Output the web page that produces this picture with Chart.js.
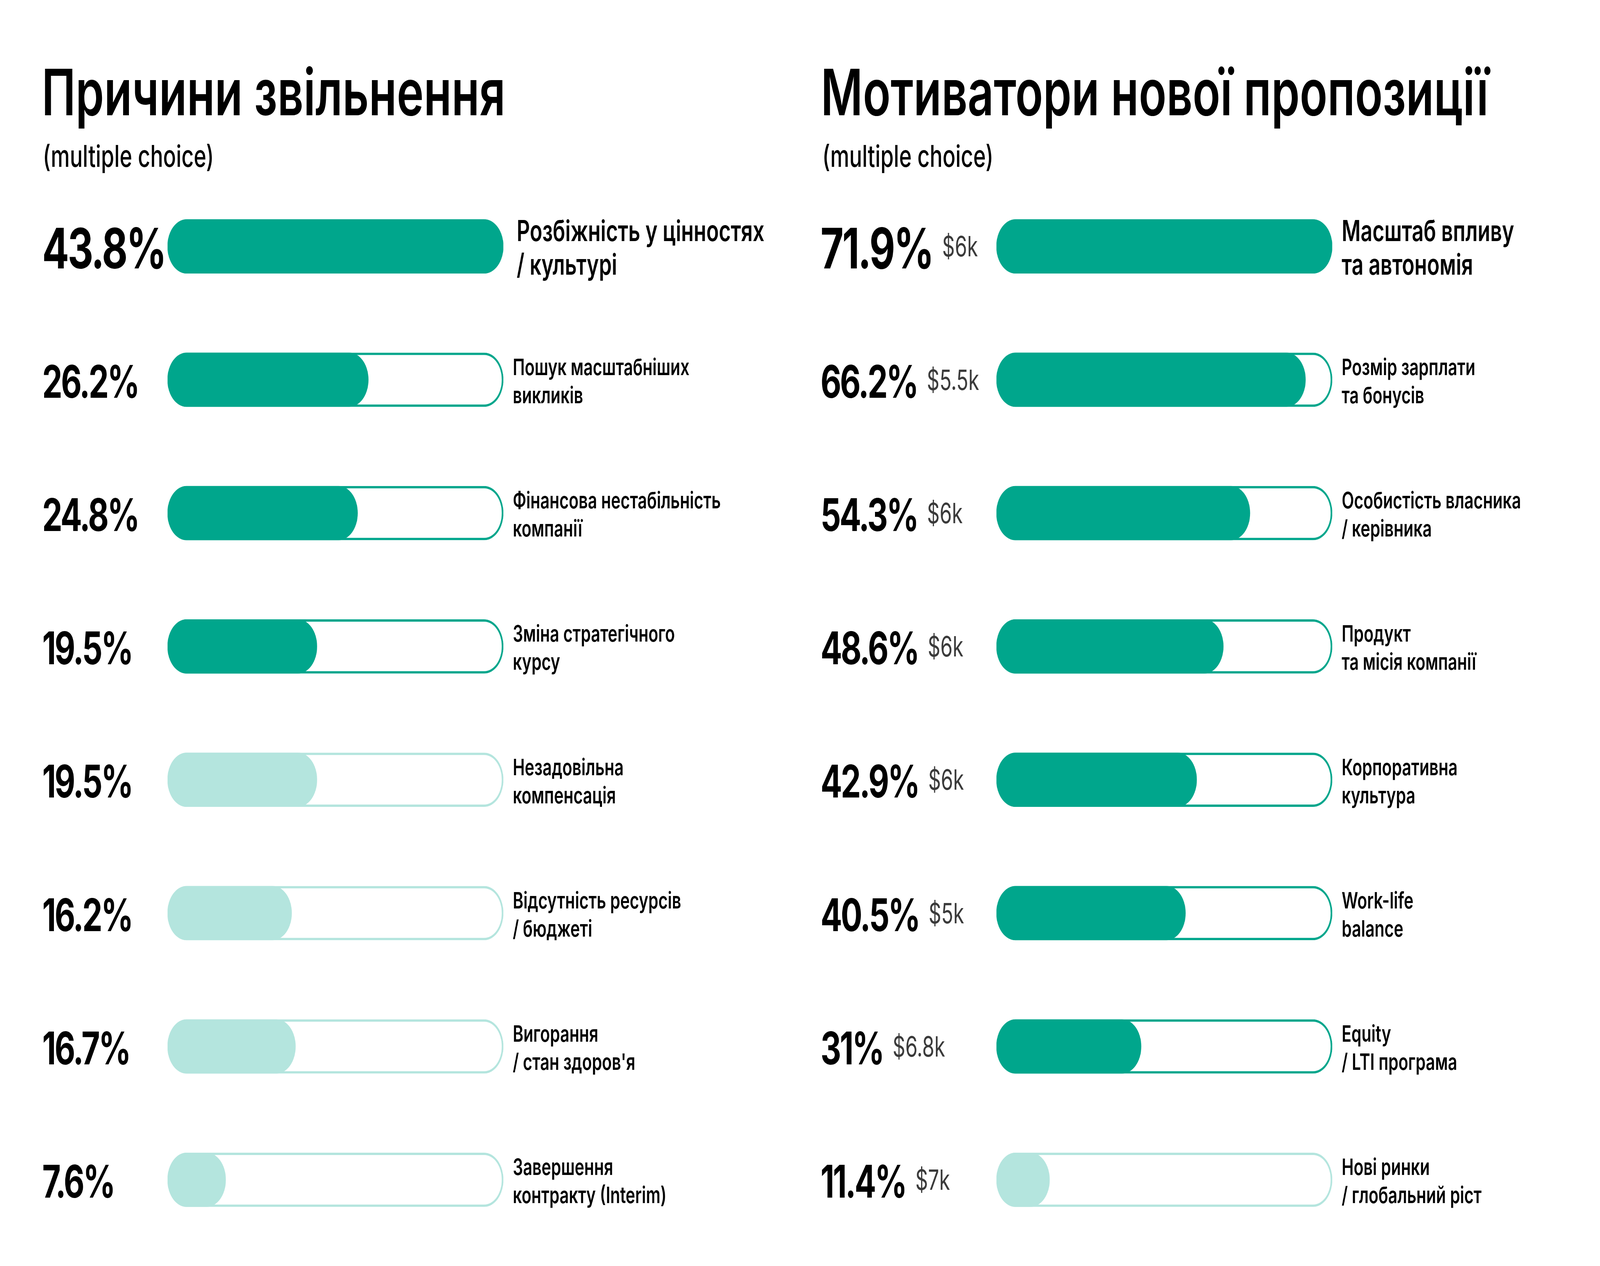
<!DOCTYPE html>
<html><head><meta charset="utf-8">
<script src="https://cdn.jsdelivr.net/npm/chart.js@4.4.1/dist/chart.umd.min.js"></script>
<style>
html,body{margin:0;padding:0;background:#fff;overflow:hidden;}
#stage{width:5760px;height:3240px;position:absolute;left:0;top:0;transform-origin:0 0;font-family:Inter,'Noto Sans',sans-serif;background:#fff;}
.title{position:absolute;font-size:164px;font-weight:600;line-height:1;color:#000;white-space:nowrap;}
.sub{position:absolute;font-size:77px;font-weight:500;line-height:1;color:#000;white-space:nowrap;}
.panel{position:absolute;top:0;width:2880px;height:3240px;}
</style></head>
<body>
<div id="stage">
<div class="title" style="left:150px;top:154px">Причини звільнення</div>
<div class="sub" style="left:154px;top:361px">(multiple choice)</div>
<div class="title" style="left:2955px;top:154px">Мотиватори нової пропозиції</div>
<div class="sub" style="left:2960px;top:361px">(multiple choice)</div>
<canvas id="left" class="panel" style="left:0" width="2880" height="3240"></canvas>
<canvas id="right" class="panel" style="left:2880px" width="2880" height="3240"></canvas>
</div>
<script>
// ---- data ----
const leftCategories = [
  ['Розбіжність у цінностях', '/ культурі'],
  ['Пошук масштабніших', 'викликів'],
  ['Фінансова нестабільність', 'компанії'],
  ['Зміна стратегічного', 'курсу'],
  ['Незадовільна', 'компенсація'],
  ['Відсутність ресурсів', '/ бюджеті'],
  ['Вигорання', "/ стан здоров'я"],
  ['Завершення', 'контракту (Interim)']
];
const leftValues = [43.8, 26.2, 24.8, 19.5, 19.5, 16.2, 16.7, 7.6];
const leftTone = ['strong', 'strong', 'strong', 'strong', 'soft', 'soft', 'soft', 'soft'];

const rightCategories = [
  ['Масштаб впливу', 'та автономія'],
  ['Розмір зарплати', 'та бонусів'],
  ['Особистість власника', '/ керівника'],
  ['Продукт', 'та місія компанії'],
  ['Корпоративна', 'культура'],
  ['Work-life', 'balance'],
  ['Equity', '/ LTI програма'],
  ['Нові ринки', '/ глобальний ріст']
];
const rightValues = [71.9, 66.2, 54.3, 48.6, 42.9, 40.5, 31, 11.4];
const rightSalary = ['$6k', '$5.5k', '$6k', '$6k', '$6k', '$5k', '$6.8k', '$7k'];
const rightTone = ['strong', 'strong', 'strong', 'strong', 'strong', 'strong', 'strong', 'soft'];

// ---- map the 5760x3240 design frame onto the actual window ----
(function fit() {
  const sx = window.innerWidth / 5760, sy = window.innerHeight / 3240;
  document.getElementById('stage').style.transform = 'scale(' + sx + ',' + sy + ')';
})();

// ---- style ----
const TEAL = '#00A68C';
const SOFT = '#B4E5DE';
const FONT = 'Inter, "Noto Sans", sans-serif';

function labelPlugin(cats, vals, salaries, pctX) {
  return {
    id: 'rowLabels',
    afterDatasetsDraw(chart) {
      const ctx = chart.ctx, ys = chart.scales.y, area = chart.chartArea;
      vals.forEach((v, i) => {
        const cy = ys.getPixelForValue(i);
        const big = i === 0;
        ctx.save();
        ctx.textAlign = 'left';
        ctx.textBaseline = 'alphabetic';
        ctx.fillStyle = '#000';
        const pfs = big ? 143 : 115;
        ctx.font = `700 ${pfs}px ${FONT}`;
        ctx.letterSpacing = '-5px';
        const txt = v + '%';
        ctx.fillText(txt, pctX, cy + pfs * 0.727 / 2 + 4);
        if (salaries) {
          const w = ctx.measureText(txt).width;
          ctx.letterSpacing = '0px';
          ctx.font = `400 71px ${FONT}`;
          ctx.fillStyle = '#3a3a3a';
          ctx.fillText(salaries[i], pctX + w + 34, cy + 71 * 0.727 / 2);
        }
        ctx.letterSpacing = '0px';
        const lfs = big ? 74 : 58;
        const lh = big ? 86 : 72;
        ctx.font = `600 ${lfs}px ${FONT}`;
        ctx.fillStyle = '#000';
        const b1 = cy - (big ? 14 : 12);
        const lx = area.right + (big && !salaries ? 48 : 34);
        cats[i].forEach((line, k) => ctx.fillText(line, lx, b1 + k * lh));
        ctx.restore();
      });
    }
  };
}

function makeChart(id, cats, vals, tones, salaries, pad, pctX) {
  const max = Math.max(...vals);
  const colors = tones.map(t => t === 'strong' ? TEAL : SOFT);
  return new Chart(document.getElementById(id), {
    type: 'bar',
    data: {
      labels: cats.map(c => c.join(' ')),
      datasets: [
        { label: 'value', data: vals, backgroundColor: colors, borderWidth: 0,
          borderRadius: 69, borderSkipped: false, grouped: false, barThickness: 138, order: 0 },
        { label: 'track', data: vals.map(() => max), backgroundColor: '#fff', borderColor: colors, borderWidth: 6,
          borderRadius: 69, borderSkipped: false, grouped: false, barThickness: 138, order: 1 }
      ]
    },
    options: {
      indexAxis: 'y',
      responsive: false,
      devicePixelRatio: 1,
      animation: false,
      events: [],
      layout: { padding: pad },
      scales: {
        x: { display: false, min: 0, max: max },
        y: { display: false }
      },
      plugins: { legend: { display: false }, tooltip: { enabled: false } }
    },
    plugins: [labelPlugin(cats, vals, salaries, pctX)]
  });
}

makeChart('left', leftCategories, leftValues, leftTone, null,
  { left: 603, right: 1068, top: 460, bottom: 50 }, 152);
makeChart('right', rightCategories, rightValues, rightTone, rightSalary,
  { left: 707, right: 964, top: 460, bottom: 50 }, 74);
</script>
</body></html>
